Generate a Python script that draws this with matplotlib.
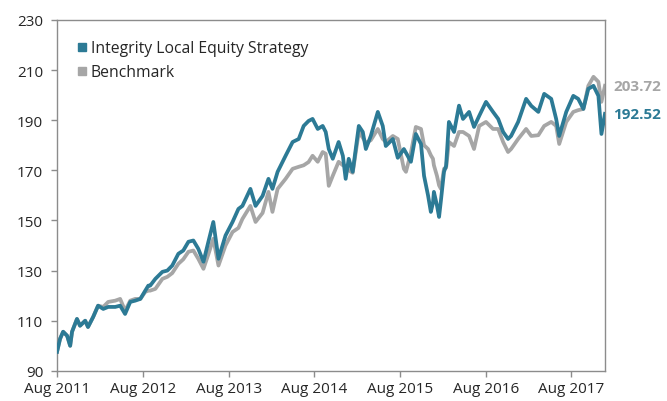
import matplotlib
matplotlib.use("Agg")
import matplotlib.pyplot as plt
import matplotlib.dates as mdates
from matplotlib.lines import Line2D
import pandas as pd

plt.rcParams['font.family'] = ['Open Sans', 'DejaVu Sans']

dates = [
    "2011-08-01", "2011-08-14", "2011-08-27", "2011-09-13", "2011-09-26", "2011-10-04",
    "2011-10-25", "2011-11-07", "2011-11-29", "2011-12-11", "2012-01-02", "2012-01-23",
    "2012-02-14", "2012-03-06", "2012-04-05", "2012-04-26", "2012-05-17", "2012-06-08",
    "2012-06-29", "2012-07-21", "2012-08-11", "2012-08-24", "2012-09-01", "2012-09-23",
    "2012-10-23", "2012-11-13", "2012-12-04", "2012-12-30", "2013-01-20", "2013-02-11",
    "2013-03-04", "2013-03-25", "2013-04-16", "2013-05-07", "2013-05-28", "2013-06-19",
    "2013-07-19", "2013-08-18", "2013-09-12", "2013-09-29", "2013-11-02", "2013-11-24",
    "2013-12-24", "2014-01-18", "2014-02-04", "2014-02-26", "2014-04-01", "2014-05-01",
    "2014-05-27", "2014-06-17", "2014-07-08", "2014-07-25", "2014-08-16", "2014-09-06",
    "2014-09-19", "2014-10-02", "2014-10-19", "2014-11-13", "2014-12-01", "2014-12-13",
    "2014-12-26", "2015-01-12", "2015-02-07", "2015-02-24", "2015-03-09", "2015-03-30",
    "2015-04-29", "2015-05-20", "2015-06-02", "2015-07-02", "2015-07-23", "2015-08-18",
    "2015-08-27", "2015-09-17", "2015-10-08", "2015-10-30", "2015-11-12", "2015-11-29",
    "2015-12-11", "2015-12-20", "2015-12-24", "2016-01-06", "2016-01-15", "2016-01-23",
    "2016-02-05", "2016-02-14", "2016-02-26", "2016-03-19", "2016-04-09", "2016-04-26",
    "2016-05-22", "2016-06-12", "2016-07-04", "2016-08-02", "2016-09-01", "2016-09-23",
    "2016-10-14", "2016-11-04", "2016-11-17", "2016-12-17", "2017-01-20", "2017-02-11",
    "2017-03-13", "2017-04-07", "2017-05-07", "2017-05-28", "2017-06-10", "2017-07-10",
    "2017-08-09", "2017-08-30", "2017-09-21", "2017-10-12", "2017-11-03", "2017-11-24",
    "2017-12-07", "2017-12-22",
]

strategy = [
    97.6, 102.8, 105.6, 104.0, 100.0, 105.6,
    110.7, 108.0, 110.0, 107.5, 111.5, 116.0,
    114.7, 115.5, 115.5, 116.0, 112.7, 117.5,
    118.0, 118.7, 122.0, 124.0, 124.0, 126.7,
    129.5, 130.0, 132.0, 136.7, 138.0, 141.5,
    142.0, 138.7, 133.5, 141.5, 149.4, 134.7,
    144.0, 149.4, 154.6, 155.8, 162.6, 155.8,
    159.8, 166.6, 162.6, 169.4, 175.8, 181.3,
    182.5, 187.7, 189.7, 190.5, 186.5, 187.7,
    185.3, 178.5, 174.6, 181.3, 175.8, 166.6,
    174.6, 169.4, 187.7, 185.3, 178.5, 183.7,
    193.3, 187.7, 179.7, 182.5, 175.0, 178.5,
    177.0, 173.4, 184.5, 180.5, 167.8, 160.0,
    153.4, 157.0, 161.4, 156.0, 151.4, 158.0,
    169.4, 171.8, 189.3, 185.3, 195.8, 190.5,
    193.3, 187.3, 191.7, 197.3, 193.3, 190.5,
    185.3, 182.5, 183.7, 189.3, 198.5, 195.7,
    193.3, 200.5, 198.5, 190.5, 183.7, 193.3,
    199.7, 198.5, 194.5, 202.5, 203.7, 199.7,
    184.5, 192.52,
]

benchmark = [
    97.6, 102.8, 105.6, 104.0, 100.0, 105.6,
    110.7, 108.0, 110.0, 107.5, 111.5, 116.0,
    115.5, 117.5, 118.0, 118.7, 114.0, 118.0,
    118.7, 118.7, 121.5, 122.0, 122.0, 122.7,
    126.7, 127.5, 129.0, 132.7, 134.5, 137.5,
    138.0, 134.7, 130.7, 136.5, 142.7, 132.0,
    140.0, 145.4, 147.0, 150.6, 155.8, 149.4,
    153.0, 161.4, 153.4, 162.6, 166.6, 170.6,
    171.4, 172.0, 173.3, 175.8, 173.4, 177.3,
    176.6, 163.8, 167.8, 173.4, 172.0, 171.8,
    170.0, 169.0, 185.3, 183.0, 181.0, 182.0,
    186.5, 182.5, 181.3, 183.7, 182.5, 170.6,
    169.4, 177.0, 187.3, 186.5, 180.0, 178.5,
    176.0, 174.6, 172.0, 167.8, 164.0, 162.6,
    170.6, 171.0, 181.3, 179.7, 185.3, 185.3,
    183.7, 178.5, 187.7, 189.3, 186.5, 186.5,
    181.3, 177.3, 178.5, 182.5, 186.5, 183.7,
    184.0, 187.7, 189.3, 187.7, 180.5, 189.3,
    193.3, 194.0, 194.5, 203.7, 207.3, 205.3,
    197.3, 203.72,
]

series_names = ["Integrity Local Equity Strategy", "Benchmark"]
y_ticks = [90, 110, 130, 150, 170, 190, 210, 230]
x_tick_dates = ["2011-08-01", "2012-08-01", "2013-08-01", "2014-08-01",
                "2015-08-01", "2016-08-01", "2017-08-01"]

TEAL = "#2C7A95"
GREY = "#A6A6A6"
SPINE = "#8C8C8C"
TEXT = "#262626"

t = pd.to_datetime(dates)

fig = plt.figure(figsize=(6.67, 4.02), dpi=100)
ax = fig.add_axes([0.0855, 0.075, 0.8215, 0.873])

ax.plot(t, benchmark, color=GREY, lw=2.7, solid_joinstyle="round", zorder=2)
ax.plot(t, strategy, color=TEAL, lw=2.7, solid_joinstyle="round", zorder=3)

ax.set_ylim(90, 230)
ax.set_yticks(y_ticks)
ax.set_xlim(t[0], t[-1])
ax.set_xticks(pd.to_datetime(x_tick_dates))
ax.xaxis.set_major_formatter(mdates.DateFormatter("%b %Y"))

for s in ax.spines.values():
    s.set_color(SPINE)
    s.set_linewidth(1.0)
ax.tick_params(axis="both", colors=SPINE, labelcolor=TEXT, labelsize=11,
               length=4, width=1.0, direction="out")
ax.tick_params(axis="y", pad=6)
ax.tick_params(axis="x", pad=3)

# value labels at the end of each series
ax.annotate(f"{benchmark[-1]:.2f}", xy=(t[-1], benchmark[-1]), xytext=(6, 0),
            textcoords="offset points", va="center", ha="left",
            color=GREY, fontsize=11, fontweight="bold", annotation_clip=False)
ax.annotate(f"{strategy[-1]:.2f}", xy=(t[-1], strategy[-1]), xytext=(6, 0),
            textcoords="offset points", va="center", ha="left",
            color=TEAL, fontsize=11, fontweight="bold", annotation_clip=False)

handles = [Line2D([], [], ls="none", marker="s", markersize=5.5, color=TEAL),
           Line2D([], [], ls="none", marker="s", markersize=5.5, color=GREY)]
ax.legend(handles, series_names, loc="upper left", frameon=False, fontsize=11.3,
          handletextpad=0.05, handlelength=1.0, borderaxespad=0.0,
          labelspacing=0.5, bbox_to_anchor=(0.02, 0.96), labelcolor=TEXT)

fig.savefig("out.png", dpi=100)
